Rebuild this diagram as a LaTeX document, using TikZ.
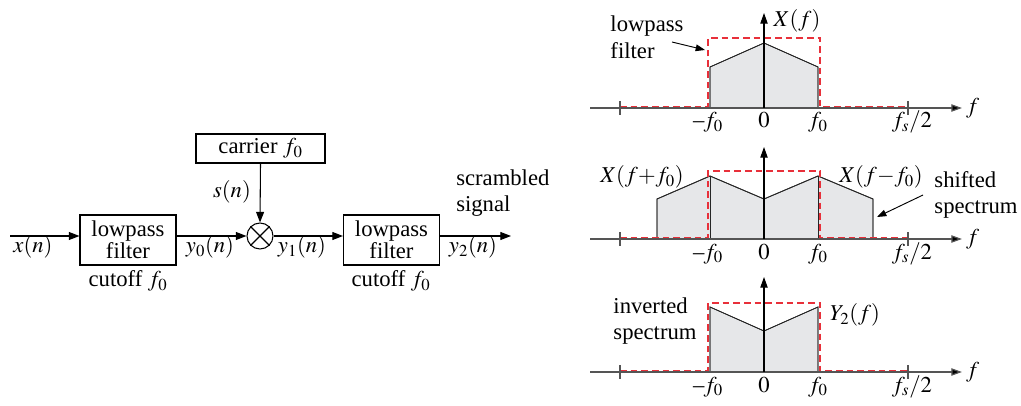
\documentclass[tikz,border=0pt]{standalone}
\usepackage{mathptmx}
\usepackage{fontspec}
\setmainfont{Liberation Serif}
\usetikzlibrary{arrows.meta}
\definecolor{specfill}{HTML}{E6E7E9}
\definecolor{filtred}{HTML}{E8303A}
\definecolor{axgray}{HTML}{555555}
\newcommand{\mfo}{\textendash\kern-0.5pt$f_0$}
\tikzset{
  lbl/.style={font=\fontsize{17}{20}\selectfont, inner sep=0pt},
  blk/.style={draw, line width=0.8pt, minimum width=72pt, minimum height=37.5pt, align=center, font=\fontsize{17}{16.5}\selectfont, inner sep=0pt},
  sig/.style={line width=0.8pt, -{Triangle[length=8pt,width=6pt]}},
  axisline/.style={axgray, line width=0.9pt, -{Triangle[length=8pt,width=5.5pt,fill=black]}},
  vaxis/.style={black, line width=0.8pt, -{Triangle[length=8pt,width=5.5pt]}},
  spec/.style={fill=specfill, draw=black!85, line width=0.6pt},
  lpf/.style={filtred, line width=1.2pt, dash pattern=on 5pt off 3pt},
  note/.style={line width=0.7pt, -{Triangle[length=7pt,width=5pt]}},
}
\begin{document}
\begin{tikzpicture}[x=0.75pt,y=-0.75pt]
\useasboundingbox (0,0) rectangle (1021,406);
% ---- block diagram ----
\coordinate (in) at (10,236);
\node[blk] (lp1) at (128,240) {lowpass\\filter};
\node[draw, line width=0.8pt, minimum width=96.75pt, minimum height=21.75pt, inner sep=0pt, font=\fontsize{17}{20}\selectfont] (car) at (260.5,148.5) {carrier $f_0$};
\node[draw, circle, line width=0.8pt, minimum size=19.5pt, inner sep=0pt] (mix) at (260,236) {};
\draw[line width=0.8pt] (mix.north west) -- (mix.south east) (mix.north east) -- (mix.south west);
\node[blk] (lp2) at (391.5,240) {lowpass\\filter};
\coordinate (out) at (511,236);
\draw[sig] (in) -- (in -| lp1.west);
\draw[sig] (mix.west -| lp1.east) -- (mix.west);
\draw[sig] (car.south) -- (mix.north);
\draw[sig] (mix.east) -- (mix.east -| lp2.west);
\draw[sig] (mix.east -| lp2.east) -- (out);
\node[lbl] (xn) at (33,247) {$x(n)$};
\node[lbl] (y0) at (210,247) {$y_0(n)$};
\node[lbl] (sn) at (232,192) {$s(n)$};
\node[lbl] (y1) at (302,247) {$y_1(n)$};
\node[lbl] (y2) at (473,247) {$y_2(n)$};
\node[lbl, align=left, anchor=west] (scr) at (456,193) {scrambled\\signal};
\node[lbl] (c1) at (128,281) {cutoff $f_0$};
\node[lbl] (c2) at (391,281) {cutoff $f_0$};
% ---- panel 1 ----
\begin{scope}[yshift=-81pt]
\coordinate (a1l) at (590,0); \coordinate (a1r) at (962,0);
\fill[spec] (710,0) -- (710,-41) -- (764,-65) -- (818,-41) -- (818,0) -- cycle;
\draw[black!85, line width=0.6pt] (710,0) -- (710,-41) -- (764,-65) -- (818,-41) -- (818,0);
\draw[lpf] (620,-1) -- (708,-1) -- (708,-70) -- (820,-70) -- (820,-1) -- (908,-1);
\draw[axisline] (a1l) -- (a1r);
\draw[axgray, line width=0.8pt] (620,-7) -- (620,7) (908,-7) -- (908,7);
\coordinate (v1b) at (764,0); \coordinate (v1t) at (764,-95);
\draw[vaxis] (v1b) -- (v1t);
\node[lbl, anchor=west] (f1) at (966,0) {$f$};
\node[lbl, anchor=base] (m1) at (708,20) {\mfo};
\node[lbl, anchor=base] (z1) at (764,20) {$0$};
\node[lbl, anchor=base] (p1) at (818,20) {$f_0$};
\node[lbl, anchor=base] (h1) at (912,20) {$f_s/2$};
\node[lbl] (X1) at (797,-87) {$X(f)$};
\node[lbl, align=left] (lpn) at (647,-71) {lowpass\\filter};
\coordinate (lpa) at (705,-58);
\draw[note] (672,-66) -- (lpa);
\end{scope}
% ---- panel 2 ----
\begin{scope}[yshift=-179.25pt]
\coordinate (a2l) at (590,0); \coordinate (a2r) at (962,0);
\fill[spec] (657,0) -- (657,-40) -- (710,-63) -- (764,-40) -- (818,-63) -- (873,-40) -- (873,0) -- cycle;
\draw[black!85, line width=0.6pt] (657,0) -- (657,-40) -- (710,-63) -- (764,-40) -- (818,-63) -- (873,-40) -- (873,0);
\draw[black!85, line width=0.6pt] (710,0) -- (710,-63) (818,0) -- (818,-63);
\draw[lpf] (620,-1) -- (708,-1) -- (708,-68) -- (820,-68) -- (820,-1) -- (908,-1);
\draw[axisline] (a2l) -- (a2r);
\draw[axgray, line width=0.8pt] (620,-7) -- (620,7) (908,-7) -- (908,7);
\coordinate (v2b) at (764,0); \coordinate (v2t) at (764,-92);
\draw[vaxis] (v2b) -- (v2t);
\node[lbl, anchor=west] (f2) at (966,0) {$f$};
\node[lbl, anchor=base] (m2) at (708,20) {\mfo};
\node[lbl, anchor=base] (z2) at (764,20) {$0$};
\node[lbl, anchor=base] (p2) at (818,20) {$f_0$};
\node[lbl, anchor=base] (h2) at (912,20) {$f_s/2$};
\node[lbl] (Xp) at (642,-62) {$X(f{+}f_0)$};
\node[lbl] (Xm) at (881,-62) {$X(f{-}f_0)$};
\node[lbl, align=left] (shn) at (976,-44) {shifted\\spectrum};
\coordinate (sha) at (877,-22);
\draw[note] (923,-44) -- (sha);
\end{scope}
% ---- panel 3 ----
\begin{scope}[yshift=-279pt]
\coordinate (a3l) at (590,0); \coordinate (a3r) at (962,0);
\fill[spec] (710,0) -- (710,-65) -- (764,-41) -- (818,-65) -- (818,0) -- cycle;
\draw[black!85, line width=0.6pt] (710,0) -- (710,-65) -- (764,-41) -- (818,-65) -- (818,0);
\draw[lpf] (620,-1) -- (708,-1) -- (708,-69) -- (820,-69) -- (820,-1) -- (908,-1);
\draw[axisline] (a3l) -- (a3r);
\draw[axgray, line width=0.8pt] (620,-7) -- (620,7) (908,-7) -- (908,7);
\coordinate (v3b) at (764,0); \coordinate (v3t) at (764,-95);
\draw[vaxis] (v3b) -- (v3t);
\node[lbl, anchor=west] (f3) at (966,0) {$f$};
\node[lbl, anchor=base] (m3) at (708,20) {\mfo};
\node[lbl, anchor=base] (z3) at (764,20) {$0$};
\node[lbl, anchor=base] (p3) at (818,20) {$f_0$};
\node[lbl, anchor=base] (h3) at (912,20) {$f_s/2$};
\node[lbl] (Y2) at (855,-57) {$Y_2(f)$};
\node[lbl, align=left] (inv) at (655,-51) {inverted\\spectrum};
\end{scope}
\end{tikzpicture}
\end{document}
